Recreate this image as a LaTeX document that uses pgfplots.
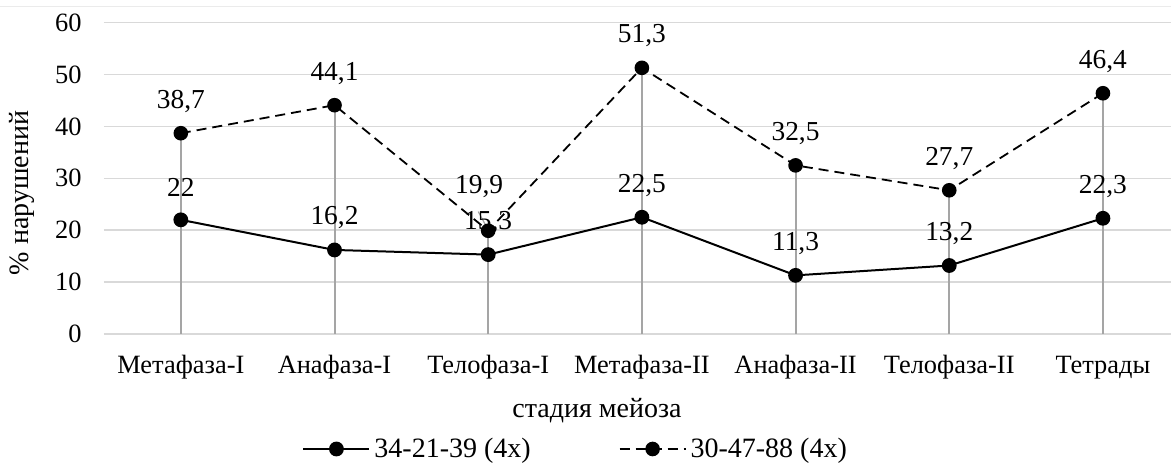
\documentclass[border=0pt]{standalone}
\usepackage{pgfplots}
\pgfplotsset{compat=1.18}
\usepackage{pgfplotstable}
\usepackage{fontspec}
\setmainfont{Liberation Serif}
\definecolor{gridc}{RGB}{217,217,217}
\definecolor{dropc}{RGB}{165,165,165}
\definecolor{framec}{RGB}{235,235,235}

\pgfplotstableread{
x y lbl dx dy
0 22 22 0 16
1 16.2 16,2 0 16
2 15.3 15,3 0 16
3 22.5 22,5 0 16
4 11.3 11,3 0 16
5 13.2 13,2 0 16
6 22.3 22,3 0 16
}\dataA

\pgfplotstableread{
x y lbl dx dy
0 38.7 38,7 0 16
1 44.1 44,1 0 16
2 19.9 19,9 -4.5 22
3 51.3 51,3 0 16
4 32.5 32,5 0 16
5 27.7 27,7 0 16
6 46.4 46,4 0 16
}\dataB

\begin{document}
\begin{tikzpicture}[font=\fontsize{13}{15}\selectfont]
\begin{axis}[
  name=ax,
  scale only axis,
  width=533.5pt, height=155.65pt,
  xmin=-0.5, xmax=6.443,
  ymin=0, ymax=60,
  ytick={0,10,...,60},
  xtick={0,...,6},
  xticklabels={Метафаза-I,Анафаза-I,Телофаза-I,Метафаза-II,Анафаза-II,Телофаза-II,Тетрады},
  /pgf/number format/assume math mode=true,
  ymajorgrids,
  grid style={gridc, line width=0.75pt},
  axis line style={draw=none},
  major tick style={draw=none},
  tick label style={font=\fontsize{13.2}{15}\selectfont},
  xticklabel style={anchor=base, yshift=-20pt},
  yticklabel style={anchor=east, xshift=-7.7pt},
  label style={font=\fontsize{14}{16}\selectfont},
  ylabel={\% нарушений},
  ylabel style={at={(axis description cs:-0.0769,0.453)}, anchor=center},
  xlabel={стадия мейоза},
  xlabel style={at={(axis description cs:0.462,-0.2698)}, anchor=base},
  clip=false,
  legend columns=2,
  legend style={at={(axis description cs:0.1856,-0.3694)}, anchor=west, draw=none, fill=none,
    inner sep=0pt, column sep=0pt, font=\fontsize{14}{16}\selectfont,
    /tikz/every even column/.append style={column sep=42pt}},
  legend cell align=left,
  legend image code/.code={\draw[mark repeat=2,mark phase=2,#1] plot coordinates {(0pt,0pt) (16.5pt,0pt) (33pt,0pt)};},
  point meta=explicit symbolic,
]
\addplot[ycomb, dropc, line width=1pt, no markers, forget plot] table[x=x, y=y] {\dataB};
\draw[dropc, line width=0.6pt] (axis cs:1.935,23.6) -- (axis cs:1.99,20.6);
\addplot[black, line width=1pt, mark=*, mark size=3.2pt,
  nodes near coords,
  visualization depends on={\thisrow{dx}\as\dx},
  visualization depends on={\thisrow{dy}\as\dy},
  nodes near coords style={anchor=center, xshift=\dx pt, yshift=\dy pt, text=black, font=\fontsize{13.7}{16}\selectfont}]
  table[x=x, y=y, meta=lbl] {\dataA};
\addlegendentry{34-21-39 (4x)}
\addplot[black, line width=0.9pt, dash pattern=on 5pt off 3pt, mark=*, mark size=3.2pt, mark options={solid},
  nodes near coords,
  visualization depends on={\thisrow{dx}\as\dx},
  visualization depends on={\thisrow{dy}\as\dy},
  nodes near coords style={anchor=center, xshift=\dx pt, yshift=\dy pt, text=black, font=\fontsize{13.7}{16}\selectfont}]
  table[x=x, y=y, meta=lbl] {\dataB};
\addlegendentry{30-47-88 (4x)}
\end{axis}
\draw[framec, line width=0.6pt] ([shift={(-52pt,7.9pt)}]ax.north west) -- ([shift={(0pt,7.9pt)}]ax.north east);
\pgfresetboundingbox
\path[use as bounding box] ([shift={(-52pt,-64.5pt)}]ax.south west) rectangle ([shift={(0pt,11.35pt)}]ax.north east);
\end{tikzpicture}
\end{document}
